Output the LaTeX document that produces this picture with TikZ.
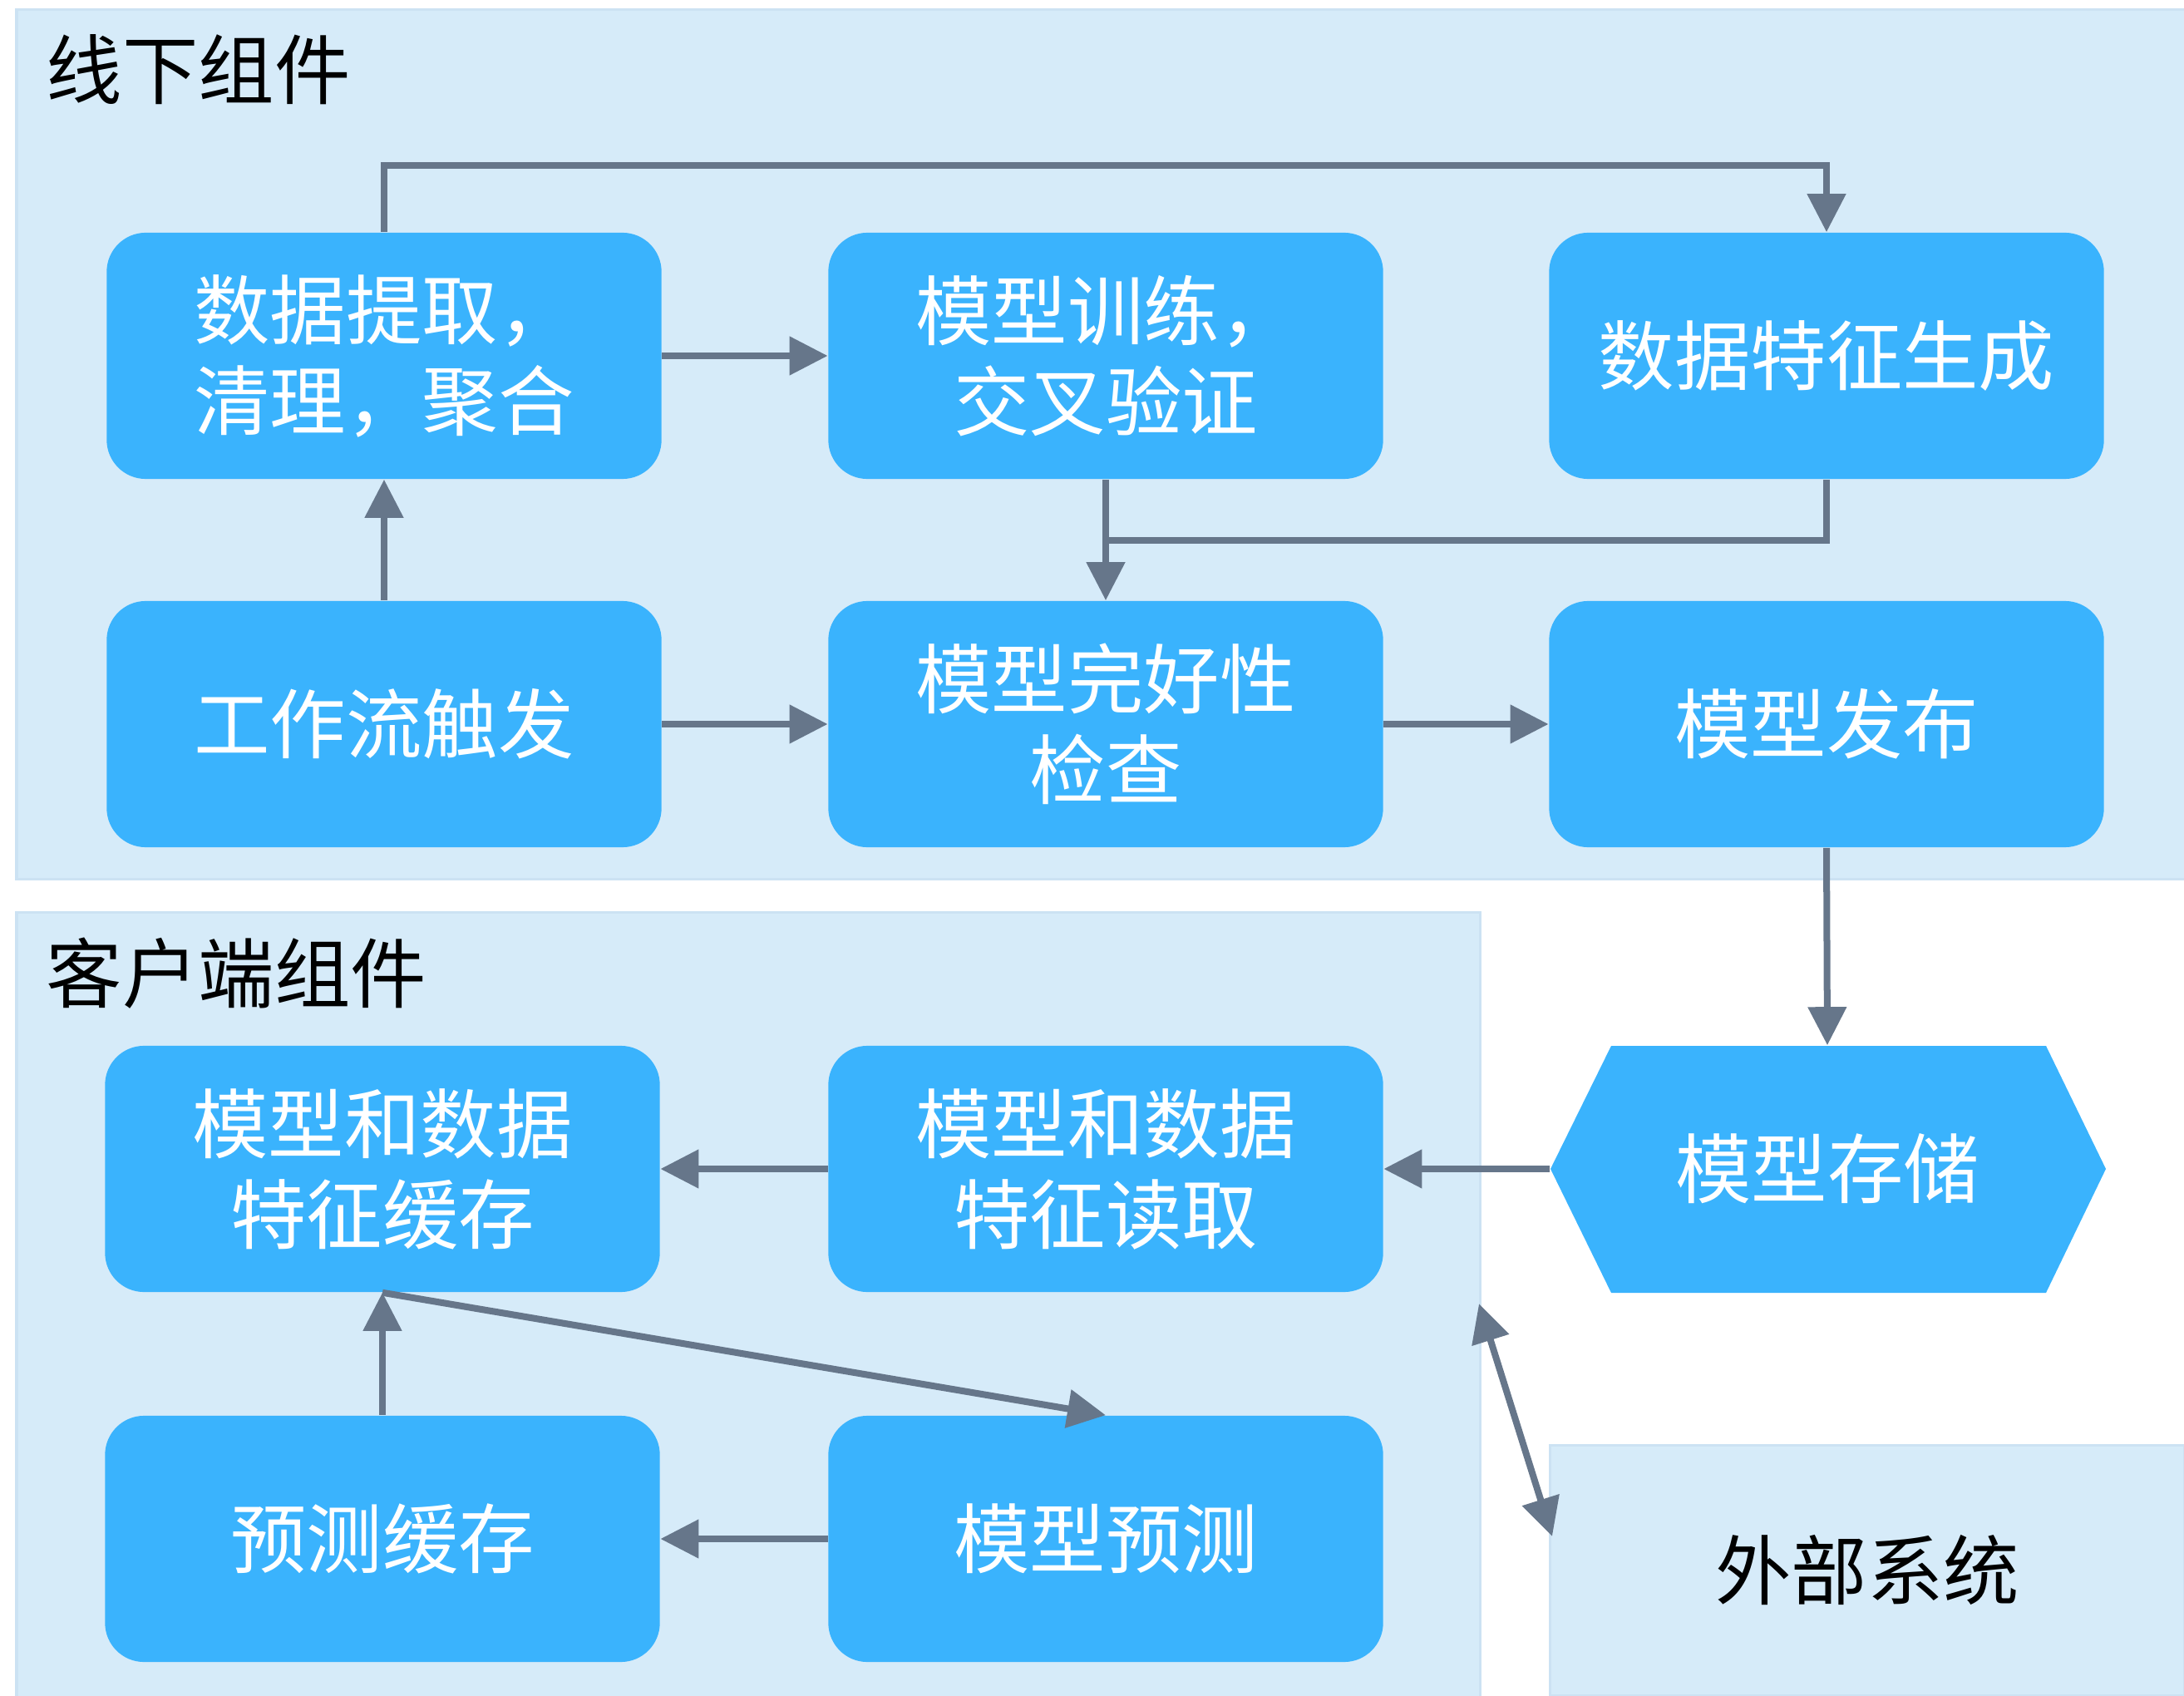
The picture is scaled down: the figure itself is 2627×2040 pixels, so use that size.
\documentclass[tikz,border=0pt]{standalone}
\usepackage{fontspec}
\newfontfamily\cjk{Noto Sans CJK SC}
\usetikzlibrary{arrows.meta}
\definecolor{panelfill}{HTML}{D6EBF9}
\definecolor{panelline}{HTML}{CCE2F3}
\definecolor{boxblue}{HTML}{3AB3FD}
\definecolor{arrowc}{HTML}{66768A}
\begin{document}
\begin{tikzpicture}[x=0.01cm,y=-0.01cm,
 panel/.style={fill=panelfill,draw=panelline,line width=0.03cm},
 blockbox/.style={fill=boxblue, rounded corners=0.47cm, minimum width=6.67cm, minimum height=2.96cm, inner sep=0pt, align=center, text=white, font=\cjk\fontsize{26}{31}\selectfont},
 ttl/.style={anchor=west, inner sep=0pt, font=\cjk\fontsize{26}{31}\selectfont},
 line/.style={draw=arrowc, line width=0.08cm},
 conn/.style={line, -{Triangle[length=0.46cm,width=0.45cm]}},
 dconn/.style={line, {Triangle[length=0.46cm,width=0.45cm]}-{Triangle[length=0.46cm,width=0.45cm]}},
]
\useasboundingbox (0,0) rectangle (2627,2040);
% panels
\path[panel] (20,12) rectangle (2640,1057);
\path[panel] (20,1097) rectangle (1780,2050);
\node[ttl] (t1) at (55,84) {线下组件};
\node[ttl] (t2) at (55,1171) {客户端组件};
\node[panel, minimum width=7.62cm, minimum height=3.0cm, inner sep=0pt, font=\cjk\fontsize{26}{31}\selectfont] (ext) at (2246,1889) {外部系统};
% blocks
\node[blockbox] (A) at (462,428) {数据提取，\\清理，聚合};
\node[blockbox] (B) at (1330,428) {模型训练，\\交叉验证};
\node[blockbox] (C) at (2197,428) {数据特征生成};
\node[blockbox] (D) at (462,871) {工作流触发};
\node[blockbox] (E) at (1330,871) {模型完好性\\检查};
\node[blockbox] (F) at (2197,871) {模型发布};
\node[blockbox] (G) at (460,1406) {模型和数据\\特征缓存};
\node[blockbox] (H) at (1330,1406) {模型和数据\\特征读取};
\path[fill=boxblue] (1865,1406) -- (1938,1258) -- (2461,1258) -- (2533,1406) -- (2461,1555) -- (1938,1555) -- cycle;
\node[blockbox, fill=none] (S) at (2198,1406) {模型存储};
\node[blockbox] (I) at (460,1851) {预测缓存};
\node[blockbox] (J) at (1330,1851) {模型预测};
% helper coordinates
\coordinate (topbend) at (0,199);
\coordinate (midbend) at (0,650);
\coordinate (dA) at (1779,1568);
\coordinate (dB) at (1867,1848);
% connectors
\draw[conn] (A.north) -- (A.north |- topbend) -| (C.north);
\draw[conn] (A.east) -- (B.west);
\draw[conn] (D.north) -- (A.south);
\draw[conn] (B.south) -- (E.north);
\draw[line] (C.south) -- (C.south |- midbend) -- (B.south |- midbend);
\draw[conn] (D.east) -- (E.west);
\draw[conn] (E.east) -- (F.west);
\draw[conn] (F.south) -- (S.north);
\draw[conn] (S.west) -- (H.east);
\draw[conn] (H.west) -- (G.east);
\draw[conn] (I.north) -- (G.south);
\draw[conn] (G.south) -- (J.north);
\draw[conn] (J.west) -- (I.east);
\draw[dconn] (dA) -- (dB);
\end{tikzpicture}
\end{document}
